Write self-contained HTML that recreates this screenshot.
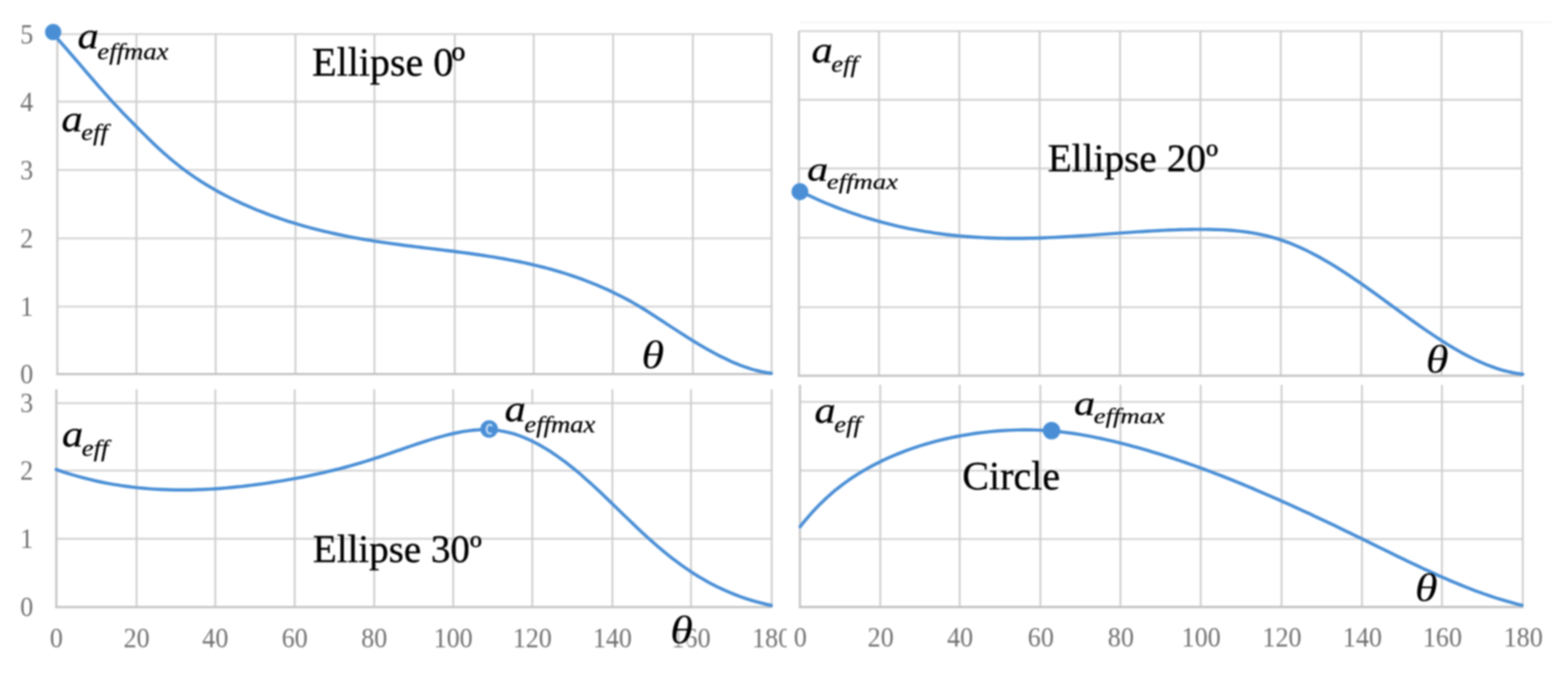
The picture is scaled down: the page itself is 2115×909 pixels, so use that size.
<!DOCTYPE html>
<html lang="en"><head><meta charset="utf-8"><title>Effective parameter a_eff versus theta</title>
<style>
html,body{margin:0;padding:0;background:#fff;}
body{width:2115px;height:909px;overflow:hidden;}
svg{display:block;filter:blur(1.25px);}
text{font-family:'Liberation Serif',serif;}
.tick{font-size:37px;fill:#727272;}
.title{fill:#000;stroke:#000;stroke-width:0.45px;}
.m{font-style:italic;fill:#000;stroke:#000;stroke-width:0.25px;}
</style></head><body>
<svg width="2115" height="909" viewBox="0 0 2115 909" role="img" aria-label="a_eff versus theta for Ellipse 0º, Ellipse 20º, Ellipse 30º and Circle">
<rect width="2115" height="909" fill="#fff"/>
<g id="panel-ellipse30">
<g fill="none" stroke="#d4d4d4" stroke-width="2.6">
<line x1="76.0" y1="543.7" x2="1041.9" y2="543.7"/>
<line x1="76.0" y1="634.7" x2="1041.9" y2="634.7"/>
<line x1="76.0" y1="726.6" x2="1041.9" y2="726.6"/>
</g>
<g fill="none" stroke="#cecece" stroke-width="2.5">
<line x1="184.2" y1="525.0" x2="184.2" y2="818.7"/>
<line x1="290.4" y1="525.0" x2="290.4" y2="818.7"/>
<line x1="397.5" y1="525.0" x2="397.5" y2="818.7"/>
<line x1="504.8" y1="525.0" x2="504.8" y2="818.7"/>
<line x1="611.3" y1="525.0" x2="611.3" y2="818.7"/>
<line x1="718.0" y1="525.0" x2="718.0" y2="818.7"/>
<line x1="826.0" y1="525.0" x2="826.0" y2="818.7"/>
<line x1="932.1" y1="525.0" x2="932.1" y2="818.7"/>
<line x1="1040.9" y1="525.0" x2="1040.9" y2="818.7"/>
</g>
<line x1="76.0" y1="525.0" x2="76.0" y2="818.7" stroke="#c4c4c4" stroke-width="2.9"/>
<line x1="74.6" y1="818.7" x2="1041.9" y2="818.7" stroke="#c4c4c4" stroke-width="3.1"/>
<g class="tick" text-anchor="middle">
<text transform="translate(76.0,872.5) scale(0.95,1)">0</text>
<text transform="translate(184.2,872.5) scale(0.95,1)">20</text>
<text transform="translate(290.4,872.5) scale(0.95,1)">40</text>
<text transform="translate(397.5,872.5) scale(0.95,1)">60</text>
<text transform="translate(504.8,872.5) scale(0.95,1)">80</text>
<text transform="translate(611.3,872.5) scale(0.95,1)">100</text>
<text transform="translate(718.0,872.5) scale(0.95,1)">120</text>
<text transform="translate(826.0,872.5) scale(0.95,1)">140</text>
<text transform="translate(932.1,872.5) scale(0.95,1)">160</text>
<text transform="translate(1040.9,872.5) scale(0.95,1)">180</text>
</g>
<g class="tick" text-anchor="middle">
<text transform="translate(36.0,556.2) scale(0.95,1)">3</text>
<text transform="translate(36.0,647.2) scale(0.95,1)">2</text>
<text transform="translate(36.0,739.1) scale(0.95,1)">1</text>
<text transform="translate(36.0,831.2) scale(0.95,1)">0</text>
</g>
<rect x="679" y="545.6" width="127" height="45" fill="#fff"/>
<path d="M75.7,633.2 L82.6,635.6 L89.6,637.9 L96.5,640.0 L103.5,642.0 L110.4,643.9 L117.3,645.7 L124.3,647.4 L131.2,649.0 L138.2,650.5 L145.1,651.8 L152.0,653.1 L159.0,654.2 L165.9,655.3 L172.9,656.2 L179.8,657.1 L186.7,657.9 L193.7,658.5 L200.6,659.1 L207.6,659.6 L214.5,660.0 L221.4,660.3 L228.4,660.5 L235.3,660.7 L242.3,660.8 L249.2,660.7 L256.1,660.7 L263.1,660.5 L270.0,660.3 L277.0,660.0 L283.9,659.6 L290.8,659.2 L297.8,658.7 L304.7,658.1 L311.7,657.5 L318.6,656.8 L325.6,656.1 L332.5,655.3 L339.4,654.4 L346.4,653.5 L353.3,652.6 L360.3,651.6 L367.2,650.5 L374.1,649.4 L381.1,648.3 L388.0,647.1 L395.0,645.9 L401.9,644.6 L408.8,643.3 L415.8,641.9 L422.7,640.4 L429.7,638.9 L436.6,637.3 L443.5,635.7 L450.5,634.0 L457.4,632.3 L464.4,630.5 L471.3,628.6 L478.2,626.6 L485.2,624.6 L492.1,622.5 L499.1,620.4 L506.0,618.2 L512.9,615.9 L519.9,613.5 L526.8,611.1 L533.8,608.7 L540.7,606.3 L547.6,603.9 L554.6,601.5 L561.5,599.1 L568.5,596.8 L575.4,594.6 L582.3,592.5 L589.3,590.4 L596.2,588.5 L603.2,586.7 L610.1,585.0 L617.0,583.5 L624.0,582.2 L630.9,581.1 L637.9,580.3 L644.8,579.7 L651.7,579.4 L658.7,579.5 L665.6,579.9 L672.6,580.6 L679.5,581.8 L686.4,583.3 L693.4,585.2 L700.3,587.5 L707.3,590.2 L714.2,593.2 L721.1,596.6 L728.1,600.3 L735.0,604.3 L742.0,608.7 L748.9,613.3 L755.8,618.2 L762.8,623.3 L769.7,628.7 L776.7,634.3 L783.6,640.2 L790.5,646.3 L797.5,652.5 L804.4,658.9 L811.4,665.4 L818.3,672.1 L825.3,678.8 L832.2,685.5 L839.1,692.3 L846.1,699.0 L853.0,705.7 L860.0,712.3 L866.9,718.8 L873.8,725.2 L880.8,731.4 L887.7,737.4 L894.7,743.2 L901.6,748.9 L908.5,754.3 L915.5,759.5 L922.4,764.5 L929.4,769.3 L936.3,773.9 L943.2,778.2 L950.2,782.2 L957.1,786.1 L964.1,789.7 L971.0,793.1 L977.9,796.3 L984.9,799.3 L991.8,802.1 L998.8,804.7 L1005.7,807.1 L1012.6,809.3 L1019.6,811.4 L1026.5,813.2 L1033.5,815.0 L1040.4,816.5" fill="none" stroke="#4a8fd6" stroke-width="4.4" stroke-linecap="round" stroke-linejoin="round"/>
<circle cx="659.8" cy="578.7" r="11.9" fill="#4a8fd6"/>
<ellipse cx="660.6" cy="578.8" rx="4.2" ry="6.1" fill="none" stroke="#cde2f7" stroke-width="2.4" stroke-dasharray="22.5 10.5" stroke-dashoffset="-5.2"/>
<text class="m" transform="translate(83.6,601.9) scale(1.2,1.05)" font-size="48">a<tspan dx="-1.7" dy="12.8" font-size="30" letter-spacing="0">eff</tspan></text>
<text class="m" transform="translate(680.4,567.9) scale(1.2,1.05)" font-size="48">a<tspan dx="-1.7" dy="14.2" font-size="30" letter-spacing="0">effmax</tspan></text>
<text class="title" x="422.0" y="758.3" font-size="52.6">Ellipse 30º</text>
<rect x="899" y="826" width="33" height="45" fill="#fff" fill-opacity="0.6"/>
<text class="m" style="stroke-width:0" transform="translate(903.9,867.0) scale(1.2,1)" font-size="52">θ</text>
</g>
<g id="panel-circle">
<rect x="1061" y="512" width="1054" height="397" fill="#fff"/>
<g fill="none" stroke="#d4d4d4" stroke-width="2.6">
<line x1="1079.0" y1="542.0" x2="2055.0" y2="542.0"/>
<line x1="1079.0" y1="634.7" x2="2055.0" y2="634.7"/>
<line x1="1079.0" y1="727.0" x2="2055.0" y2="727.0"/>
</g>
<g fill="none" stroke="#cecece" stroke-width="2.5">
<line x1="1187.3" y1="519.0" x2="1187.3" y2="818.6"/>
<line x1="1294.5" y1="519.0" x2="1294.5" y2="818.6"/>
<line x1="1403.3" y1="519.0" x2="1403.3" y2="818.6"/>
<line x1="1511.3" y1="519.0" x2="1511.3" y2="818.6"/>
<line x1="1619.6" y1="519.0" x2="1619.6" y2="818.6"/>
<line x1="1728.6" y1="519.0" x2="1728.6" y2="818.6"/>
<line x1="1837.1" y1="519.0" x2="1837.1" y2="818.6"/>
<line x1="1945.0" y1="519.0" x2="1945.0" y2="818.6"/>
<line x1="2054.0" y1="519.0" x2="2054.0" y2="818.6"/>
</g>
<line x1="1079.0" y1="519.0" x2="1079.0" y2="818.6" stroke="#c6c6c6" stroke-width="2.9"/>
<line x1="1077.6" y1="818.6" x2="2055.0" y2="818.6" stroke="#c4c4c4" stroke-width="3.1"/>
<g class="tick" text-anchor="middle">
<text transform="translate(1079.6,871.5) scale(0.95,1)">0</text>
<text transform="translate(1187.9,871.5) scale(0.95,1)">20</text>
<text transform="translate(1295.1,871.5) scale(0.95,1)">40</text>
<text transform="translate(1403.9,871.5) scale(0.95,1)">60</text>
<text transform="translate(1511.9,871.5) scale(0.95,1)">80</text>
<text transform="translate(1620.2,871.5) scale(0.95,1)">100</text>
<text transform="translate(1729.2,871.5) scale(0.95,1)">120</text>
<text transform="translate(1837.7,871.5) scale(0.95,1)">140</text>
<text transform="translate(1945.6,871.5) scale(0.95,1)">160</text>
<text transform="translate(2054.6,871.5) scale(0.95,1)">180</text>
</g>
<path d="M1079.2,710.4 L1086.2,701.7 L1093.2,693.6 L1100.2,686.0 L1107.2,678.8 L1114.2,672.1 L1121.2,665.8 L1128.2,659.9 L1135.2,654.4 L1142.3,649.2 L1149.3,644.4 L1156.3,639.8 L1163.3,635.6 L1170.3,631.6 L1177.3,627.8 L1184.3,624.2 L1191.3,620.8 L1198.3,617.6 L1205.3,614.5 L1212.3,611.6 L1219.3,608.9 L1226.3,606.3 L1233.3,603.8 L1240.3,601.5 L1247.3,599.4 L1254.3,597.3 L1261.3,595.4 L1268.4,593.6 L1275.4,592.0 L1282.4,590.4 L1289.4,589.0 L1296.4,587.7 L1303.4,586.5 L1310.4,585.3 L1317.4,584.3 L1324.4,583.4 L1331.4,582.6 L1338.4,581.9 L1345.4,581.3 L1352.4,580.8 L1359.4,580.4 L1366.4,580.1 L1373.4,579.9 L1380.4,579.8 L1387.5,579.8 L1394.5,579.9 L1401.5,580.1 L1408.5,580.5 L1415.5,581.0 L1422.5,581.6 L1429.5,582.3 L1436.5,583.1 L1443.5,584.0 L1450.5,585.0 L1457.5,586.2 L1464.5,587.4 L1471.5,588.7 L1478.5,590.1 L1485.5,591.5 L1492.5,593.1 L1499.5,594.7 L1506.6,596.4 L1513.6,598.1 L1520.6,599.9 L1527.6,601.8 L1534.6,603.7 L1541.6,605.7 L1548.6,607.7 L1555.6,609.8 L1562.6,611.9 L1569.6,614.1 L1576.6,616.4 L1583.6,618.7 L1590.6,621.0 L1597.6,623.4 L1604.6,625.8 L1611.6,628.3 L1618.6,630.9 L1625.6,633.4 L1632.7,636.0 L1639.7,638.7 L1646.7,641.4 L1653.7,644.1 L1660.7,646.9 L1667.7,649.7 L1674.7,652.6 L1681.7,655.5 L1688.7,658.4 L1695.7,661.4 L1702.7,664.4 L1709.7,667.4 L1716.7,670.5 L1723.7,673.5 L1730.7,676.7 L1737.7,679.8 L1744.7,683.0 L1751.8,686.2 L1758.8,689.4 L1765.8,692.6 L1772.8,695.9 L1779.8,699.2 L1786.8,702.5 L1793.8,705.8 L1800.8,709.1 L1807.8,712.5 L1814.8,715.9 L1821.8,719.3 L1828.8,722.7 L1835.8,726.1 L1842.8,729.5 L1849.8,733.0 L1856.8,736.4 L1863.8,739.9 L1870.9,743.3 L1877.9,746.7 L1884.9,750.2 L1891.9,753.6 L1898.9,756.9 L1905.9,760.3 L1912.9,763.6 L1919.9,766.9 L1926.9,770.1 L1933.9,773.3 L1940.9,776.5 L1947.9,779.5 L1954.9,782.6 L1961.9,785.5 L1968.9,788.4 L1975.9,791.3 L1982.9,794.0 L1989.9,796.7 L1997.0,799.3 L2004.0,801.8 L2011.0,804.2 L2018.0,806.5 L2025.0,808.6 L2032.0,810.7 L2039.0,812.7 L2046.0,814.6 L2053.0,816.3" fill="none" stroke="#4a8fd6" stroke-width="4.4" stroke-linecap="round" stroke-linejoin="round"/>
<circle cx="1418.4" cy="580.8" r="11.8" fill="#4a8fd6"/>
<text class="m" transform="translate(1098.5,570.3) scale(1.2,1.05)" font-size="48">a<tspan dx="-1.7" dy="12.3" font-size="30" letter-spacing="0">eff</tspan></text>
<text class="m" transform="translate(1448.6,559.9) scale(1.2,0.99)" font-size="48">a<tspan dx="-1.7" dy="11.6" font-size="30" letter-spacing="0">effmax</tspan></text>
<text class="title" x="1298.0" y="659.9" font-size="54">Circle</text>
<text class="m" style="stroke-width:0" transform="translate(1908.6,810.0) scale(1.2,1)" font-size="52">θ</text>
</g>
<g id="panel-ellipse0">
<g fill="none" stroke="#d4d4d4" stroke-width="2.6">
<line x1="77.3" y1="46.0" x2="1041.8" y2="46.0"/>
<line x1="77.3" y1="137.1" x2="1041.8" y2="137.1"/>
<line x1="77.3" y1="229.3" x2="1041.8" y2="229.3"/>
<line x1="77.3" y1="321.5" x2="1041.8" y2="321.5"/>
<line x1="77.3" y1="413.5" x2="1041.8" y2="413.5"/>
</g>
<g fill="none" stroke="#cecece" stroke-width="2.5">
<line x1="184.0" y1="46.0" x2="184.0" y2="504.5"/>
<line x1="291.0" y1="46.0" x2="291.0" y2="504.5"/>
<line x1="398.5" y1="46.0" x2="398.5" y2="504.5"/>
<line x1="505.1" y1="46.0" x2="505.1" y2="504.5"/>
<line x1="613.4" y1="46.0" x2="613.4" y2="504.5"/>
<line x1="719.9" y1="46.0" x2="719.9" y2="504.5"/>
<line x1="827.0" y1="46.0" x2="827.0" y2="504.5"/>
<line x1="934.6" y1="46.0" x2="934.6" y2="504.5"/>
<line x1="1040.8" y1="46.0" x2="1040.8" y2="504.5"/>
</g>
<line x1="77.3" y1="46.0" x2="77.3" y2="504.5" stroke="#cecece" stroke-width="2.9"/>
<line x1="75.9" y1="504.5" x2="1041.8" y2="504.5" stroke="#c4c4c4" stroke-width="3.1"/>
<g class="tick" text-anchor="middle">
<text transform="translate(36.0,58.5) scale(0.95,1)">5</text>
<text transform="translate(36.0,149.6) scale(0.95,1)">4</text>
<text transform="translate(36.0,241.8) scale(0.95,1)">3</text>
<text transform="translate(36.0,334.0) scale(0.95,1)">2</text>
<text transform="translate(36.0,426.0) scale(0.95,1)">1</text>
<text transform="translate(36.0,517.0) scale(0.95,1)">0</text>
</g>
<path d="M76.0,50.5 L82.9,58.3 L89.9,66.2 L96.8,74.2 L103.8,82.3 L110.7,90.4 L117.6,98.5 L124.6,106.5 L131.5,114.5 L138.4,122.4 L145.4,130.2 L152.3,137.9 L159.3,145.3 L166.2,152.7 L173.1,159.8 L180.1,166.9 L187.0,173.9 L194.0,180.8 L200.9,187.6 L207.8,194.3 L214.8,200.9 L221.7,207.1 L228.7,213.2 L235.6,218.9 L242.5,224.4 L249.5,229.7 L256.4,234.7 L263.3,239.5 L270.3,244.1 L277.2,248.5 L284.2,252.6 L291.1,256.6 L298.0,260.5 L305.0,264.1 L311.9,267.6 L318.9,271.0 L325.8,274.2 L332.7,277.3 L339.7,280.3 L346.6,283.2 L353.6,285.9 L360.5,288.6 L367.4,291.2 L374.4,293.6 L381.3,296.0 L388.2,298.3 L395.2,300.4 L402.1,302.5 L409.1,304.6 L416.0,306.5 L422.9,308.3 L429.9,310.1 L436.8,311.8 L443.8,313.4 L450.7,315.0 L457.6,316.5 L464.6,317.9 L471.5,319.3 L478.5,320.6 L485.4,321.9 L492.3,323.1 L499.3,324.2 L506.2,325.3 L513.1,326.4 L520.1,327.4 L527.0,328.4 L534.0,329.3 L540.9,330.3 L547.8,331.2 L554.8,332.0 L561.7,332.9 L568.7,333.8 L575.6,334.6 L582.5,335.4 L589.5,336.3 L596.4,337.1 L603.4,338.0 L610.3,338.8 L617.2,339.7 L624.2,340.6 L631.1,341.5 L638.0,342.5 L645.0,343.5 L651.9,344.5 L658.9,345.6 L665.8,346.7 L672.7,347.8 L679.7,349.0 L686.6,350.3 L693.6,351.6 L700.5,353.0 L707.4,354.4 L714.4,356.0 L721.3,357.6 L728.3,359.3 L735.2,361.0 L742.1,362.9 L749.1,364.9 L756.0,366.9 L762.9,369.0 L769.9,371.3 L776.8,373.7 L783.8,376.1 L790.7,378.7 L797.6,381.5 L804.6,384.3 L811.5,387.3 L818.5,390.3 L825.4,393.6 L832.3,396.9 L839.3,400.4 L846.2,404.0 L853.2,407.9 L860.1,411.8 L867.0,416.0 L874.0,420.4 L880.9,424.9 L887.8,429.4 L894.8,433.9 L901.7,438.5 L908.7,443.0 L915.6,447.5 L922.5,451.9 L929.5,456.3 L936.4,460.6 L943.4,464.8 L950.3,468.8 L957.2,472.8 L964.2,476.6 L971.1,480.2 L978.1,483.6 L985.0,486.9 L991.9,489.9 L998.9,492.7 L1005.8,495.2 L1012.7,497.5 L1019.7,499.5 L1026.6,501.1 L1033.6,502.5 L1040.5,503.5" fill="none" stroke="#4a8fd6" stroke-width="4.4" stroke-linecap="round" stroke-linejoin="round"/>
<circle cx="71.7" cy="43.2" r="11.0" fill="#4a8fd6"/>
<text class="m" transform="translate(104.5,65.0) scale(1.2,1.05)" font-size="48">a<tspan dx="-1.7" dy="14.2" font-size="30" letter-spacing="0">effmax</tspan></text>
<text class="m" transform="translate(82.7,176.8) scale(1.2,1.05)" font-size="48">a<tspan dx="-1.7" dy="11.8" font-size="30" letter-spacing="0">eff</tspan></text>
<text class="title" x="421.0" y="102.2" font-size="54">Ellipse 0<tspan font-size="60" dy="2.8" dx="-2.4">º</tspan></text>
<text class="m" style="stroke-width:0" transform="translate(865.3,496.3) scale(1.2,1)" font-size="52">θ</text>
</g>
<g id="panel-ellipse20">
<line x1="1079" y1="30" x2="2093" y2="30" stroke="#f4f4f4" stroke-width="2"/>
<g fill="none" stroke="#d4d4d4" stroke-width="2.6">
<line x1="1077.6" y1="42.0" x2="2053.8" y2="42.0"/>
<line x1="1077.6" y1="134.6" x2="2053.8" y2="134.6"/>
<line x1="1077.6" y1="227.1" x2="2053.8" y2="227.1"/>
<line x1="1077.6" y1="320.8" x2="2053.8" y2="320.8"/>
<line x1="1077.6" y1="414.2" x2="2053.8" y2="414.2"/>
</g>
<g fill="none" stroke="#cecece" stroke-width="2.5">
<line x1="1185.6" y1="42.0" x2="1185.6" y2="506.7"/>
<line x1="1294.0" y1="42.0" x2="1294.0" y2="506.7"/>
<line x1="1402.4" y1="42.0" x2="1402.4" y2="506.7"/>
<line x1="1510.8" y1="42.0" x2="1510.8" y2="506.7"/>
<line x1="1619.2" y1="42.0" x2="1619.2" y2="506.7"/>
<line x1="1727.6" y1="42.0" x2="1727.6" y2="506.7"/>
<line x1="1836.0" y1="42.0" x2="1836.0" y2="506.7"/>
<line x1="1944.4" y1="42.0" x2="1944.4" y2="506.7"/>
<line x1="2052.8" y1="42.0" x2="2052.8" y2="506.7"/>
</g>
<line x1="1077.6" y1="42.0" x2="1077.6" y2="506.7" stroke="#c9c9c9" stroke-width="2.9"/>
<line x1="1076.2" y1="506.7" x2="2053.8" y2="506.7" stroke="#c4c4c4" stroke-width="3.1"/>
<path d="M1079.0,257.8 L1086.0,261.2 L1093.0,264.6 L1100.0,267.8 L1107.1,270.9 L1114.1,273.9 L1121.1,276.8 L1128.1,279.6 L1135.1,282.3 L1142.1,284.8 L1149.1,287.3 L1156.2,289.7 L1163.2,292.0 L1170.2,294.1 L1177.2,296.2 L1184.2,298.2 L1191.2,300.1 L1198.2,301.9 L1205.3,303.6 L1212.3,305.3 L1219.3,306.8 L1226.3,308.3 L1233.3,309.6 L1240.3,310.9 L1247.3,312.1 L1254.4,313.2 L1261.4,314.3 L1268.4,315.3 L1275.4,316.2 L1282.4,317.0 L1289.4,317.7 L1296.4,318.4 L1303.5,319.0 L1310.5,319.5 L1317.5,320.0 L1324.5,320.4 L1331.5,320.7 L1338.5,321.0 L1345.5,321.2 L1352.6,321.4 L1359.6,321.5 L1366.6,321.5 L1373.6,321.5 L1380.6,321.5 L1387.6,321.3 L1394.6,321.2 L1401.7,321.0 L1408.7,320.7 L1415.7,320.4 L1422.7,320.1 L1429.7,319.7 L1436.7,319.3 L1443.7,318.9 L1450.8,318.5 L1457.8,318.0 L1464.8,317.6 L1471.8,317.1 L1478.8,316.6 L1485.8,316.1 L1492.8,315.6 L1499.9,315.1 L1506.9,314.6 L1513.9,314.1 L1520.9,313.6 L1527.9,313.1 L1534.9,312.6 L1541.9,312.2 L1549.0,311.8 L1556.0,311.4 L1563.0,311.0 L1570.0,310.6 L1577.0,310.3 L1584.0,310.1 L1591.1,309.8 L1598.1,309.6 L1605.1,309.5 L1612.1,309.4 L1619.1,309.4 L1626.1,309.4 L1633.1,309.5 L1640.2,309.7 L1647.2,309.9 L1654.2,310.3 L1661.2,310.8 L1668.2,311.4 L1675.2,312.1 L1682.2,313.0 L1689.3,314.1 L1696.3,315.4 L1703.3,316.8 L1710.3,318.5 L1717.3,320.3 L1724.3,322.4 L1731.3,324.8 L1738.4,327.3 L1745.4,330.2 L1752.4,333.2 L1759.4,336.4 L1766.4,339.9 L1773.4,343.5 L1780.4,347.3 L1787.5,351.3 L1794.5,355.4 L1801.5,359.7 L1808.5,364.1 L1815.5,368.7 L1822.5,373.3 L1829.5,378.1 L1836.6,382.9 L1843.6,387.9 L1850.6,392.9 L1857.6,397.9 L1864.6,403.0 L1871.6,408.1 L1878.6,413.3 L1885.7,418.4 L1892.7,423.5 L1899.7,428.6 L1906.7,433.6 L1913.7,438.6 L1920.7,443.5 L1927.7,448.3 L1934.8,453.0 L1941.8,457.6 L1948.8,462.1 L1955.8,466.5 L1962.8,470.6 L1969.8,474.7 L1976.8,478.5 L1983.9,482.1 L1990.9,485.6 L1997.9,488.8 L2004.9,491.7 L2011.9,494.4 L2018.9,496.9 L2025.9,499.1 L2033.0,500.9 L2040.0,502.5 L2047.0,503.8 L2054.0,504.7" fill="none" stroke="#4a8fd6" stroke-width="4.4" stroke-linecap="round" stroke-linejoin="round"/>
<circle cx="1079.0" cy="258.5" r="11.4" fill="#4a8fd6"/>
<text class="m" transform="translate(1094.5,83.9) scale(1.2,1.05)" font-size="48">a<tspan dx="-1.7" dy="12.3" font-size="30" letter-spacing="0">eff</tspan></text>
<text class="m" transform="translate(1088.5,243.6) scale(1.2,0.99)" font-size="48">a<tspan dx="-1.7" dy="11.8" font-size="30" letter-spacing="0">effmax</tspan></text>
<text class="title" x="1413.2" y="230.5" font-size="53">Ellipse 20º</text>
<text class="m" style="stroke-width:0" transform="translate(1923.2,501.8) scale(1.2,1)" font-size="52">θ</text>
</g>
</svg>
</body></html>
